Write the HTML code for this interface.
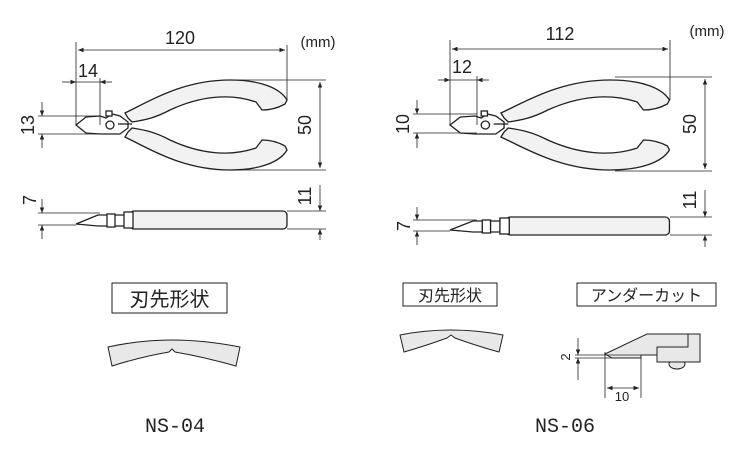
<!DOCTYPE html>
<html><head><meta charset="utf-8"><style>
html,body{margin:0;padding:0;background:#fff;width:750px;height:450px;overflow:hidden}
text{font-family:"Liberation Sans","Noto Sans CJK JP",sans-serif;fill:#222}
text.mono{font-family:"Liberation Mono",monospace}
</style></head><body>
<svg width="750" height="450" viewBox="0 0 750 450" xmlns="http://www.w3.org/2000/svg">
<defs>
<marker id="a" viewBox="0 0 10 10" refX="10" refY="5" markerWidth="7" markerHeight="7" orient="auto-start-reverse"><path d="M0,1 L10,5 L0,9 z" fill="#222"/></marker>
<g id="plier" stroke="#222" stroke-width="1.3" fill="#f2f2f2">
  <path d="M125,113 L135,108 C160,95 190,80 230,80 C260,80 280,88 287,100 L285,104 C278,108 270,110 262,110 L256,102 C230,93 200,96 170,110 C155,118 145,120 132,122 L128,118 Z"/>
  <path d="M125,137 L135,142 C160,155 190,170 230,170 C260,170 280,162 287,150 L285,146 C278,142 270,140 262,140 L256,148 C230,157 200,154 170,140 C155,132 145,130 132,128 L128,132 Z"/>
  <path d="M76,125 L86,117 L100,116 L106,118 L112,114 L120,116 L128,122 L128,128 L120,134 L100,134 L86,133 Z" fill="#fff"/>
  <circle cx="110" cy="125" r="4" fill="#fff"/>
  <rect x="106" y="111" width="6" height="5" fill="#fff"/>
  <line x1="118" y1="124" x2="132" y2="124"/>
</g>
<g id="side" stroke="#222" stroke-width="1.3" fill="#f2f2f2">
  <rect x="130" y="211" width="157" height="18" rx="4"/>
  <path d="M76,224 L98,215 L125,215 L125,226 L98,226 Z" fill="#fff"/>
  <rect x="107" y="214" width="8" height="13" fill="#fff"/>
  <rect x="124" y="212" width="9" height="16" fill="#fff"/>
</g>
</defs>

<!-- LEFT NS-04 -->
<use href="#plier"/>
<use href="#side"/>
<g stroke="#222" stroke-width="0.8" fill="none">
  <line x1="76" y1="42" x2="76" y2="125"/>
  <line x1="287" y1="45" x2="287" y2="100"/>
  <line x1="78" y1="50" x2="285" y2="50" marker-start="url(#a)" marker-end="url(#a)"/>
  <line x1="100" y1="78" x2="100" y2="125"/>
  <line x1="62" y1="82" x2="76" y2="82" marker-end="url(#a)"/>
  <line x1="112" y1="82" x2="100" y2="82" marker-end="url(#a)"/>
  <line x1="76" y1="82" x2="100" y2="82"/>
  <line x1="38" y1="116" x2="100" y2="116"/>
  <line x1="38" y1="134" x2="100" y2="134"/>
  <line x1="42" y1="102" x2="42" y2="116" marker-end="url(#a)"/>
  <line x1="42" y1="148" x2="42" y2="134" marker-end="url(#a)"/>
  <line x1="235" y1="80" x2="326" y2="80"/>
  <line x1="235" y1="170" x2="326" y2="170"/>
  <line x1="320" y1="82" x2="320" y2="168" marker-start="url(#a)" marker-end="url(#a)"/>
  <line x1="38" y1="213" x2="100" y2="213"/>
  <line x1="38" y1="225" x2="76" y2="225"/>
  <line x1="42" y1="199" x2="42" y2="213" marker-end="url(#a)"/>
  <line x1="42" y1="239" x2="42" y2="225" marker-end="url(#a)"/>
  <line x1="287" y1="211" x2="326" y2="211"/>
  <line x1="287" y1="229" x2="326" y2="229"/>
  <line x1="320" y1="185" x2="320" y2="211" marker-end="url(#a)"/>
  <line x1="320" y1="240" x2="320" y2="229" marker-end="url(#a)"/>
</g>
<text x="180" y="44" font-size="18" text-anchor="middle">120</text>
<text x="318" y="47" font-size="15" text-anchor="middle">(mm)</text>
<text x="88" y="77" font-size="18" text-anchor="middle">14</text>
<text transform="translate(34,125) rotate(-90)" font-size="18" text-anchor="middle">13</text>
<text transform="translate(311,125) rotate(-90)" font-size="18" text-anchor="middle">50</text>
<text transform="translate(36,200) rotate(-90)" font-size="18" text-anchor="middle">7</text>
<text transform="translate(311,196) rotate(-90)" font-size="18" text-anchor="middle">11</text>

<rect x="112" y="283" width="115" height="30" fill="none" stroke="#222" stroke-width="1"/>
<text x="169.5" y="306" font-size="20" text-anchor="middle">刃先形状</text>
<path d="M108,347 Q140,340 172,340 Q204,340 240,347 L236,366 Q204,357 175,352 L172,349 L169,352 Q140,357 112,366 Z" fill="#e8e8e8" stroke="#222" stroke-width="1"/>
<text class="mono" x="175" y="432" font-size="20" text-anchor="middle">NS-04</text>

<!-- RIGHT NS-06 -->
<g transform="translate(450,0) scale(1.04,1) translate(-76,0)">
  <use href="#plier"/>
  <g transform="translate(0,6)"><use href="#side"/></g>
</g>
<g stroke="#222" stroke-width="0.8" fill="none">
  <line x1="450" y1="40" x2="450" y2="125"/>
  <line x1="670" y1="40" x2="670" y2="100"/>
  <line x1="452" y1="49" x2="668" y2="49" marker-start="url(#a)" marker-end="url(#a)"/>
  <line x1="477" y1="76" x2="477" y2="125"/>
  <line x1="438" y1="80" x2="450" y2="80" marker-end="url(#a)"/>
  <line x1="489" y1="80" x2="477" y2="80" marker-end="url(#a)"/>
  <line x1="450" y1="80" x2="477" y2="80"/>
  <line x1="413" y1="114" x2="477" y2="114"/>
  <line x1="413" y1="133" x2="477" y2="133"/>
  <line x1="417" y1="100" x2="417" y2="114" marker-end="url(#a)"/>
  <line x1="417" y1="148" x2="417" y2="133" marker-end="url(#a)"/>
  <line x1="615" y1="77" x2="712" y2="77"/>
  <line x1="615" y1="171" x2="712" y2="171"/>
  <line x1="705" y1="79" x2="705" y2="169" marker-start="url(#a)" marker-end="url(#a)"/>
  <line x1="413" y1="220" x2="477" y2="220"/>
  <line x1="413" y1="231" x2="450" y2="231"/>
  <line x1="417" y1="207" x2="417" y2="220" marker-end="url(#a)"/>
  <line x1="417" y1="245" x2="417" y2="231" marker-end="url(#a)"/>
  <line x1="670" y1="217" x2="712" y2="217"/>
  <line x1="670" y1="235" x2="712" y2="235"/>
  <line x1="705" y1="190" x2="705" y2="217" marker-end="url(#a)"/>
  <line x1="705" y1="247" x2="705" y2="235" marker-end="url(#a)"/>
</g>
<text x="560" y="40" font-size="18" text-anchor="middle">112</text>
<text x="707" y="36" font-size="15" text-anchor="middle">(mm)</text>
<text x="462" y="73" font-size="18" text-anchor="middle">12</text>
<text transform="translate(409,124) rotate(-90)" font-size="18" text-anchor="middle">10</text>
<text transform="translate(696,124) rotate(-90)" font-size="18" text-anchor="middle">50</text>
<text transform="translate(410,226) rotate(-90)" font-size="18" text-anchor="middle">7</text>
<text transform="translate(696,200) rotate(-90)" font-size="18" text-anchor="middle">11</text>

<rect x="403" y="283" width="94" height="23" fill="none" stroke="#222" stroke-width="1"/>
<text x="450" y="301" font-size="16" text-anchor="middle">刃先形状</text>
<path d="M400,335 Q425,330 451,330 Q477,330 503,335 L499,352 Q477,346 455,338 L451,335 L447,338 Q425,346 404,352 Z" fill="#e8e8e8" stroke="#222" stroke-width="1"/>

<rect x="577" y="283" width="139" height="23" fill="none" stroke="#222" stroke-width="1"/>
<text x="646.5" y="301" font-size="16" text-anchor="middle">アンダーカット</text>
<ellipse cx="677" cy="364" rx="8" ry="5" fill="#e8e8e8" stroke="#222" stroke-width="1"/>
<path d="M605,354 L647,334 L700,334 L700,362 L657,362 L657,355 L641,355 L641,358 L612,358 Z" fill="#e8e8e8" stroke="#222" stroke-width="1"/>
<path d="M657,355 L657,347 L688,347 L688,334" fill="none" stroke="#222" stroke-width="1"/>
<g stroke="#222" stroke-width="0.8" fill="none">
  <line x1="575" y1="355" x2="641" y2="355"/>
  <line x1="575" y1="358" x2="641" y2="358"/>
  <line x1="578" y1="338" x2="578" y2="355" marker-end="url(#a)"/>
  <line x1="578" y1="380" x2="578" y2="358" marker-end="url(#a)"/>
  <line x1="605" y1="352" x2="605" y2="398"/>
  <line x1="641" y1="358" x2="641" y2="398"/>
  <line x1="607" y1="388" x2="639" y2="388" marker-start="url(#a)" marker-end="url(#a)"/>
</g>
<text transform="translate(570,357) rotate(-90)" font-size="13" text-anchor="middle">2</text>
<text x="622" y="401" font-size="13" text-anchor="middle">10</text>
<text class="mono" x="565" y="432" font-size="20" text-anchor="middle">NS-06</text>
</svg>
</body></html>
